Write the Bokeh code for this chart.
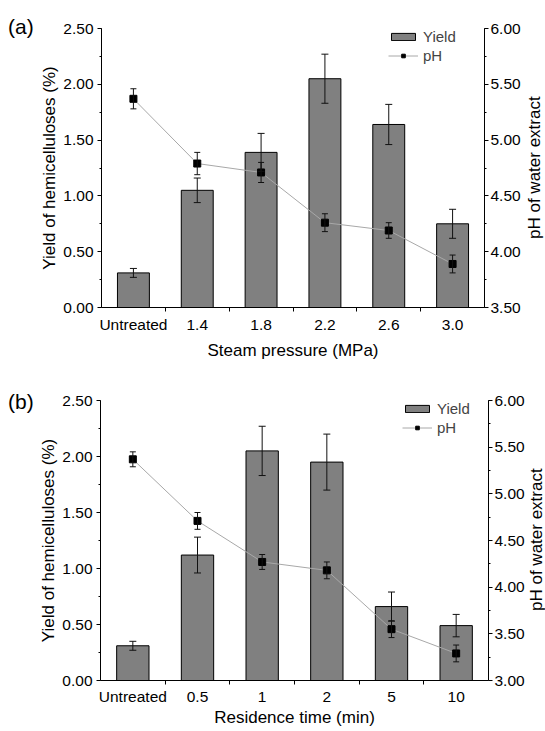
import numpy as np
from bokeh.plotting import figure
from bokeh.models import (ColumnDataSource, Range1d, LinearAxis, SingleIntervalTicker,
                          FixedTicker, Whisker, TeeHead, Legend, LegendItem, Div,
                          NumeralTickFormatter)
from bokeh.layouts import column, row
from bokeh.embed import file_html
from bokeh.resources import INLINE

# ---------------- data ----------------
pressure_labels = ["Untreated", "1.4", "1.8", "2.2", "2.6", "3.0"]
yield_a = [0.31, 1.05, 1.39, 2.05, 1.64, 0.75]
yield_a_err = [0.04, 0.11, 0.17, 0.22, 0.18, 0.13]
ph_a = [5.37, 4.79, 4.71, 4.26, 4.19, 3.89]
ph_a_err = [0.09, 0.10, 0.09, 0.08, 0.07, 0.08]

time_labels = ["Untreated", "0.5", "1", "2", "5", "10"]
yield_b = [0.31, 1.12, 2.05, 1.95, 0.66, 0.49]
yield_b_err = [0.04, 0.16, 0.22, 0.25, 0.13, 0.10]
ph_b = [5.37, 4.71, 4.27, 4.18, 3.55, 3.29]
ph_b_err = [0.08, 0.09, 0.08, 0.09, 0.09, 0.09]

FONT = "Liberation Sans"
TICK_FS = "15.5px"
LABEL_FS = "17px"


def style_axis(ax):
    ax.axis_line_color = "black"
    ax.major_tick_line_color = "black"
    ax.minor_tick_line_color = "black"
    ax.major_label_text_font = FONT
    ax.major_label_text_font_size = TICK_FS
    ax.major_label_text_color = "black"
    ax.axis_label_text_font = FONT
    ax.axis_label_text_font_size = LABEL_FS
    ax.axis_label_text_font_style = "normal"
    ax.axis_label_text_color = "black"


def make_panel(labels, yld, yerr, ph, pherr, ph_range, xlabel,
               width, height, bl, br, bt, bb, legend_x, xl_std, xa_std):
    n = len(labels)
    xs = np.arange(n) + 0.5
    yld = np.array(yld); yerr = np.array(yerr)
    ph = np.array(ph); pherr = np.array(pherr)
    src = ColumnDataSource(dict(x=xs, y=yld, ylo=yld - yerr, yhi=yld + yerr,
                                ph=ph, phlo=ph - pherr, phhi=ph + pherr))

    p = figure(width=width, height=height, x_range=Range1d(0, n), y_range=Range1d(0, 2.5),
               output_backend="svg", toolbar_location=None,
               min_border_left=bl, min_border_right=br, min_border_top=bt, min_border_bottom=bb)
    p.extra_y_ranges = {"ph": Range1d(*ph_range)}
    p.outline_line_color = None
    p.grid.visible = False
    p.background_fill_color = "white"
    p.border_fill_color = "white"

    # x axis
    xa = p.xaxis[0]
    xa.ticker = FixedTicker(ticks=list(xs), minor_ticks=list(np.arange(1, n)))
    xa.major_label_overrides = {float(v): lab for v, lab in zip(xs, labels)}
    xa.major_tick_out = 0
    xa.major_tick_in = 0
    xa.minor_tick_out = 4
    xa.minor_tick_in = 0
    xa.major_label_standoff = xl_std
    xa.axis_label = xlabel
    xa.axis_label_standoff = xa_std
    style_axis(xa)

    # left axis
    ya = p.yaxis[0]
    ya.ticker = SingleIntervalTicker(interval=0.5, num_minor_ticks=2)
    ya.formatter = NumeralTickFormatter(format="0.00")
    ya.major_tick_out = 4
    ya.major_tick_in = 0
    ya.minor_tick_out = 2
    ya.minor_tick_in = 0
    ya.major_label_standoff = 4
    ya.axis_label = "Yield of hemicelluloses (%)"
    ya.axis_label_standoff = 1
    style_axis(ya)

    # right axis (its title is drawn beside the figure so it reads bottom-to-top)
    ra = LinearAxis(y_range_name="ph",
                    ticker=SingleIntervalTicker(interval=0.5, num_minor_ticks=2),
                    formatter=NumeralTickFormatter(format="0.00"))
    ra.major_tick_out = 4
    ra.major_tick_in = 0
    ra.minor_tick_out = 2
    ra.minor_tick_in = 0
    ra.major_label_standoff = 2
    style_axis(ra)
    p.add_layout(ra, "right")

    bars = p.vbar(x="x", top="y", bottom=0, width=0.5, source=src,
                  fill_color="#808080", line_color="black", line_width=1)
    yw = Whisker(source=src, base="x", upper="yhi", lower="ylo", level="overlay",
                 line_color="#111111", line_width=1,
                 upper_head=TeeHead(size=7, line_color="#111111", line_width=1),
                 lower_head=TeeHead(size=7, line_color="#111111", line_width=1))
    p.add_layout(yw)

    ln = p.line(x="x", y="ph", source=src, y_range_name="ph",
                line_color="#a8a8a8", line_width=1)
    sc = p.scatter(x="x", y="ph", source=src, y_range_name="ph", marker="square",
                   size=7, fill_color="black", line_color="black")
    pw = Whisker(source=src, base="x", upper="phhi", lower="phlo", y_range_name="ph",
                 level="overlay", line_color="#111111", line_width=1,
                 upper_head=TeeHead(size=6, line_color="#111111", line_width=1),
                 lower_head=TeeHead(size=6, line_color="#111111", line_width=1))
    p.add_layout(pw)

    frame_h = height - bt - bb
    legend = Legend(items=[LegendItem(label="Yield", renderers=[bars]),
                           LegendItem(label="pH", renderers=[ln, sc])],
                    location=(legend_x, frame_h - 36),
                    border_line_color=None, background_fill_alpha=0,
                    padding=0, margin=0, spacing=2, glyph_width=30, glyph_height=9,
                    label_height=16, label_standoff=5,
                    label_text_font=FONT, label_text_font_size="15px")
    p.add_layout(legend)
    return p


def tag_div(tag, width, height, pad_top):
    html = ('<div style="margin:0;padding:%dpx 0 0 8px;font-family:\'Liberation Sans\';'
            'font-size:21px;line-height:24px;color:black;white-space:nowrap;">%s</div>'
            % (pad_top, tag))
    return Div(text=html, width=width, height=height, margin=0)


def side_div(text, width, height, top, frame_h):
    html = ('<div style="margin:%dpx 0 0 0;height:%dpx;width:20px;writing-mode:vertical-rl;'
            'transform:rotate(180deg);text-align:center;white-space:nowrap;'
            'font-family:\'Liberation Sans\';font-size:17px;line-height:20px;color:black;">%s</div>'
            % (top, frame_h, text))
    return Div(text=html, width=width, height=height, margin=0)


H_A, H_B = 364, 367
TAG_W = 36
pa = make_panel(pressure_labels, yield_a, yield_a_err, ph_a, ph_a_err, (3.5, 6.0),
                "Steam pressure (MPa)", 525 - TAG_W, H_A, 101 - TAG_W, 41, 28, 57, 287, 4, 5)
pb = make_panel(time_labels, yield_b, yield_b_err, ph_b, ph_b_err, (3.0, 6.0),
                "Residence time (min)", 527 - TAG_W, H_B, 100 - TAG_W, 39, 36, 51, 302, 3, 0)

row_a = row(tag_div("(a)", TAG_W, H_A, 15), pa,
            side_div("pH of water extract", 20, H_A, 28, 279), spacing=0)
row_b = row(tag_div("(b)", TAG_W, H_B, 26), pb,
            side_div("pH of water extract", 18, H_B, 36, 280), spacing=0)

layout = column(row_a, row_b, spacing=0)
open("out.html", "w").write(file_html(layout, INLINE))
